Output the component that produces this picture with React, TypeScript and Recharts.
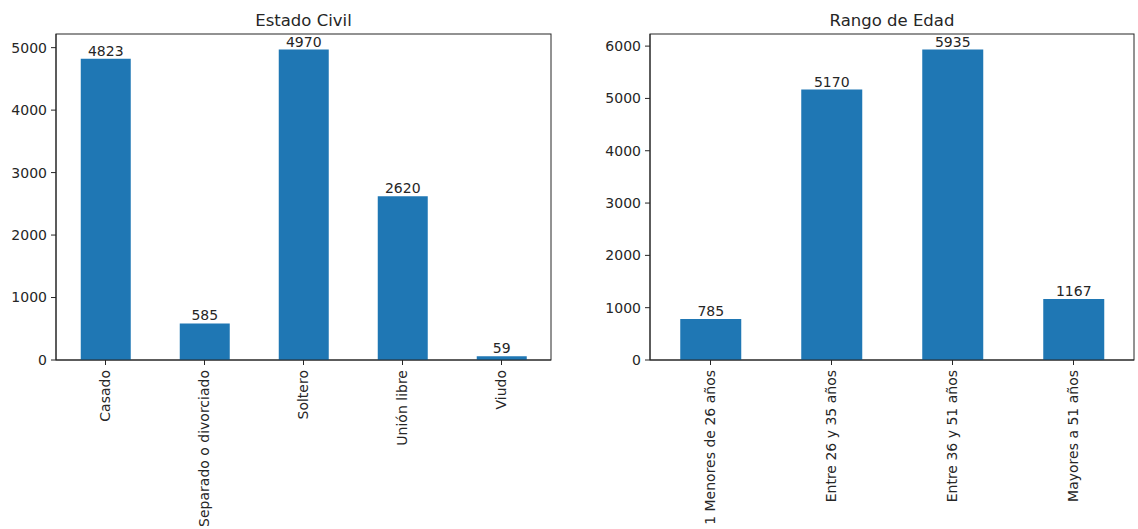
import React from "react";
import { BarChart, Bar, XAxis, YAxis, LabelList, Customized } from "recharts";

const civilCategories = ["Casado", "Separado o divorciado", "Soltero", "Unión libre", "Viudo"];
const civilValues = [4823, 585, 4970, 2620, 59];
const civilTicks = [0, 1000, 2000, 3000, 4000, 5000];

const ageCategories = ["1 Menores de 26 años", "Entre 26 y 35 años", "Entre 36 y 51 años", "Mayores a 51 años"];
const ageValues = [785, 5170, 5935, 1167];
const ageTicks = [0, 1000, 2000, 3000, 4000, 5000, 6000];

const FONT = "DejaVu Sans, sans-serif";
const INK = "#262626";
const BLUE = "#1f77b4";
const CHART_H = 529;
const TOP = 34;
const XAXIS_H = 169;

function RotatedTick({ x, y, payload }: any) {
  return (
    <text
      x={x}
      y={y}
      transform={`rotate(-90, ${x}, ${y})`}
      textAnchor="end"
      dy="0.35em"
      fontSize={14}
      fontFamily={FONT}
      fill={INK}
    >
      {payload?.value}
    </text>
  );
}

interface PanelProps {
  title: string;
  categories: string[];
  values: number[];
  ticks: number[];
  width: number;
  yAxisWidth: number;
  rightMargin: number;
}

function Panel({ title, categories, values, ticks, width, yAxisWidth, rightMargin }: PanelProps) {
  const data = categories.map((name, i) => ({ name, value: values[i] }));
  const maxVal = Math.max(...values) * 1.05;
  // plot box, same as the margins given to the chart
  const boxX = yAxisWidth;
  const boxW = width - yAxisWidth - rightMargin;
  const boxH = CHART_H - TOP - XAXIS_H;

  const Frame = () => (
    <g>
      <rect x={boxX} y={TOP} width={boxW} height={boxH} fill="none" stroke={INK} strokeWidth={1} />
      <text
        x={boxX + boxW / 2}
        y={TOP - 8}
        textAnchor="middle"
        fontSize={16.5}
        fontFamily={FONT}
        fill={INK}
      >
        {title}
      </text>
    </g>
  );

  return (
    <BarChart
      width={width}
      height={CHART_H}
      data={data}
      margin={{ top: TOP, right: rightMargin, left: 0, bottom: 0 }}
      barCategoryGap="25%"
    >
      <XAxis
        dataKey="name"
        height={XAXIS_H}
        interval={0}
        tickSize={5}
        tickMargin={5}
        stroke={INK}
        tickLine={{ stroke: INK }}
        tick={<RotatedTick />}
      />
      <YAxis
        width={yAxisWidth}
        domain={[0, maxVal]}
        ticks={ticks}
        tickSize={5}
        tickMargin={4}
        stroke={INK}
        tick={{ fontSize: 14, fontFamily: FONT, fill: INK }}
        allowDataOverflow
      />
      <Bar dataKey="value" fill={BLUE} isAnimationActive={false}>
        <LabelList dataKey="value" position="top" offset={3} fontSize={14} fontFamily={FONT} fill={INK} />
      </Bar>
      <Customized component={Frame} />
    </BarChart>
  );
}

export default function App() {
  return (
    <div
      style={{
        position: "absolute",
        left: 0,
        top: 0,
        width: 1138,
        height: 529,
        background: "#fff",
        overflow: "hidden",
      }}
    >
      <div style={{ position: "absolute", left: 0, top: 0 }}>
        <Panel
          title="Estado Civil"
          categories={civilCategories}
          values={civilValues}
          ticks={civilTicks}
          width={560}
          yAxisWidth={56}
          rightMargin={9}
        />
      </div>
      <div style={{ position: "absolute", left: 590, top: 0 }}>
        <Panel
          title="Rango de Edad"
          categories={ageCategories}
          values={ageValues}
          ticks={ageTicks}
          width={548}
          yAxisWidth={60}
          rightMargin={4}
        />
      </div>
    </div>
  );
}
